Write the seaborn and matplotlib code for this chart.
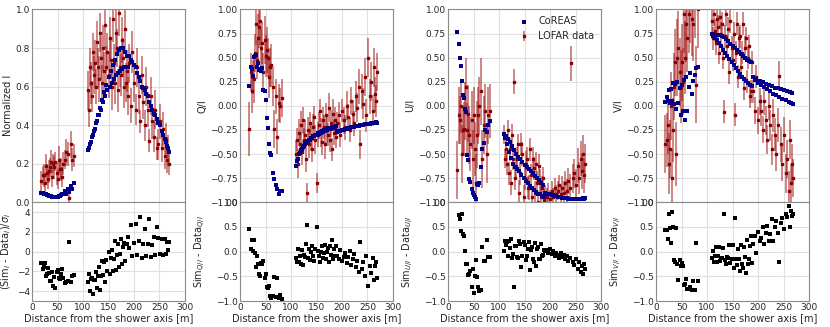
import pandas as pd
import matplotlib
matplotlib.use('Agg')
from matplotlib import pyplot as plt
import seaborn as sns

# antenna distances [m], inner ring and outer ring
dist_in = [18, 21, 24, 26, 28, 30, 32, 34, 36, 38, 40, 42, 44, 46, 48, 50, 52, 54, 56, 58,
           61, 64, 67, 70, 73, 76, 79, 83]
dist_out = [110, 112, 114, 116, 118, 120, 122, 124, 126, 128, 130, 132, 134, 136, 138, 140, 142, 144, 146, 148,
            150, 152, 154, 156, 158, 160, 162, 164, 166, 168, 170, 172, 174, 176, 178, 180, 182, 184, 186, 188,
            191, 194, 197, 200, 203, 206, 209, 212, 215, 218, 221, 224, 227, 230, 233, 236, 239, 242, 245, 248,
            251, 254, 257, 260, 262, 264, 266, 268]

# normalized intensity
i_sim_in = [.05, .05, .045, .04, .04, .035, .035, .03, .03, .03, .028, .027, .026, .026, .026, .027, .03, .03, .035, .04,
            .04, .06, .045, .07, .055, .085, .07, .10]
i_dat_in = [.11, .14, .14, .10, .19, .15, .12, .16, .18, .21, .13, .20, .18, .21, .15, .12, .22, .17, .17, .13,
            .20, .22, .26, .25, .02, .30, .22, .24]
i_err_in = [.05, .05, .06, .05, .06, .05, .05, .06, .05, .06, .05, .05, .06, .05, .06, .05, .07, .05, .06, .05,
            .06, .05, .07, .06, .035, .07, .06, .06]
i_sim_out = [.27, .28, .30, .31, .34, .35, .37, .38, .41, .42, .45, .45, .49, .48, .53, .52, .57, .55, .61, .58,
             .65, .60, .68, .62, .71, .64, .74, .66, .77, .67, .79, .68, .80, .69, .80, .70, .78, .70, .76, .70,
             .76, .74, .73, .71, .70, .67, .65, .63, .60, .59, .58, .56, .55, .52, .50, .48, .46, .45, .43, .41,
             .40, .37, .35, .33, .31, .29, .28, .26]
i_dat_out = [.58, .48, .70, .62, .55, .78, .66, .72, .60, .83, .70, .64, .88, .75, .62, .80, .68, .92, .70, .78,
             .66, .85, .74, .60, .95, .72, .62, .88, .80, .58, .98, .70, .66, .84, .75, .60, .90, .62, .68, .55,
             .72, .50, .78, .62, .48, .70, .55, .42, .66, .52, .40, .60, .48, .32, .55, .42, .34, .48, .28, .30,
             .42, .28, .38, .24, .33, .22, .27, .20]
i_err_out = [.10, .09, .10, .11, .08, .10, .10, .12, .09, .11, .10, .12, .10, .11, .09, .12, .10, .12, .11, .10,
             .12, .11, .10, .12, .12, .10, .11, .12, .10, .11, .12, .10, .11, .12, .10, .11, .12, .10, .11, .10,
             .10, .09, .11, .10, .08, .10, .09, .06, .10, .09, .08, .10, .09, .06, .10, .09, .08, .10, .06, .08,
             .09, .07, .09, .07, .08, .07, .08, .06]

# Q/I
q_sim_in = [.21, .40, .38, .31, .51, .52, .53, .40, .44, .37, .38, .36, .39, .16, .15, .06, -.13, -.23, -.40, -.49,
            -.51, -.70, -.76, -.82, -.86, -.91, -.88, -.88]
q_dat_in = [-.24, .35, .15, .30, .28, .55, .85, .48, .70, .82, .88, .60, .65, .35, .68, .52, .58, .50, .30, .40,
            .42, .20, -.24, .10, -.32, .03, .00, .08]
q_err_in = [.28, .20, .22, .18, .25, .20, .22, .20, .25, .22, .25, .20, .22, .20, .25, .22, .24, .20, .22, .20,
            .22, .20, .20, .18, .18, .20, .18, .20]
q_sim_out = [-.62, -.57, -.55, -.50, -.49, -.46, -.45, -.43, -.42, -.40, -.39, -.37, -.37, -.35, -.35, -.33, -.33, -.31, -.31, -.30,
             -.30, -.28, -.29, -.27, -.28, -.26, -.27, -.25, -.26, -.24, -.25, -.23, -.24, -.23, -.24, -.22, -.23, -.22, -.23, -.21,
             -.27, -.26, -.26, -.25, -.25, -.24, -.24, -.23, -.23, -.22, -.22, -.22, -.21, -.21, -.21, -.20, -.20, -.20, -.19, -.19,
             -.19, -.19, -.18, -.18, -.18, -.18, -.17, -.18]
q_dat_out = [-.50, -.35, -.60, -.28, -.40, -.20, -.48, -.15, -.35, -.30, -.55, -.90, -.25, -.40, -.18, -.32, -.45, -.22, -.12, -.35,
             -.80, -.30, -.20, -.05, -.28, -.38, -.15, -.22, -.40, -.10, -.25, -.30, -.02, -.35, -.18, -.45, -.08, -.28, -.15, -.32,
             -.18, -.10, -.30, -.05, -.15, -.22, .00, -.12, -.25, .05, -.08, -.18, .10, -.02, .20, -.40, .15, .02, .30, -.10,
             .50, .10, .25, -.05, .40, .12, .05, .35]
q_err_out = [.15, .12, .15, .14, .12, .15, .13, .14, .12, .15, .14, .10, .13, .14, .12, .15, .13, .14, .12, .15,
             .10, .13, .14, .12, .15, .13, .14, .12, .15, .13, .14, .12, .15, .13, .14, .12, .15, .13, .14, .12,
             .12, .14, .13, .12, .14, .13, .15, .14, .13, .15, .14, .13, .16, .15, .18, .15, .18, .16, .20, .17,
             .20, .18, .20, .16, .20, .18, .17, .20]

# U/I
u_sim_in = [.77, .64, .50, .41, .26, .11, .08, -.03, -.06, -.51, -.56, -.76, -.79, -.86, -.90, -.93, -.95, -.97, -.81, -.82,
            -.80, -.63, -.45, -.39, -.25, -.27, -.20, -.16]
u_dat_in = [-.67, -.10, -.15, .00, -.50, -.25, -.24, -.05, .20, -.25, -.08, -.30, -.40, -.15, -.55, -.10, -.45, -.80, -.30, -.10,
            .00, .15, -.55, -.20, -.05, -.50, -.10, -.05]
u_err_in = [.30, .30, .25, .28, .30, .25, .28, .30, .30, .28, .30, .30, .28, .30, .30, .30, .28, .30, .35, .30,
            .30, .35, .30, .30, .28, .30, .30, .28]
u_sim_out = [-.29, -.33, -.31, -.40, -.34, -.48, -.38, -.54, -.42, -.60, -.46, -.64, -.50, -.66, -.53, -.68, -.55, -.72, -.58, -.75,
             -.61, -.78, -.63, -.80, -.66, -.83, -.68, -.85, -.70, -.87, -.73, -.89, -.75, -.91, -.77, -.92, -.80, -.94, -.82, -.95,
             -.90, -.91, -.92, -.92, -.93, -.93, -.94, -.94, -.95, -.95, -.95, -.96, -.96, -.96, -.96, -.97, -.97, -.97, -.97, -.97,
             -.97, -.97, -.97, -.97, -.97, -.96, -.97, -.96]
u_dat_out = [-.30, -.55, -.45, -.60, -.25, -.70, -.45, -.80, -.30, -.55, .25, -.75, -.62, -.55, -.40, -.90, -.70, -.40, -.50, -.95,
             -.75, -.60, -.55, -.85, -.85, -.45, -.72, -.95, -.55, -.65, -.90, -.60, -.80, -1.00, -.62, -.78, -.95, -.85, -.75, -.98,
             -.92, -.95, -.90, -.97, -.88, -.95, -.85, -.92, -.88, -.82, -.92, -.85, -.90, -.80, -.88, -.78, -.85, .44, -.75, -.70,
             -.82, -.62, -.75, -.55, -.68, -.50, -.72, -.60]
u_err_out = [.10, .10, .12, .12, .10, .12, .12, .13, .11, .12, .13, .12, .12, .12, .11, .13, .12, .12, .12, .13,
             .12, .13, .12, .12, .13, .12, .12, .12, .12, .12, .12, .12, .12, .12, .12, .12, .12, .12, .12, .12,
             .10, .10, .10, .10, .10, .10, .10, .10, .10, .10, .10, .12, .12, .12, .12, .13, .14, .18, .15, .15,
             .16, .18, .17, .18, .18, .20, .18, .20]

# V/I
v_sim_in = [.04, .09, .05, .16, .03, .17, .05, .24, .02, .23, -.03, .25, .03, .18, -.10, .22, -.05, .27, -.15, .30,
            -.05, .20, .34, .12, .26, .32, .39, .40]
v_dat_in = [-.40, -.35, -.20, -.60, -.45, .00, -.75, -.25, .20, .45, -.50, .50, .60, .35, .20, .45, .25, .95, .50, .85,
            .70, .95, 1.05, .90, .85, 1.10, .22, 1.00]
v_err_in = [.30, .28, .30, .32, .30, .35, .30, .33, .35, .35, .33, .40, .38, .35, .38, .40, .35, .40, .38, .40,
            .35, .40, .40, .38, .38, .40, .40, .40]
v_sim_out = [.75, .72, .74, .70, .74, .68, .73, .65, .73, .62, .72, .58, .71, .55, .69, .52, .67, .49, .64, .45,
             .62, .42, .60, .39, .58, .36, .56, .33, .54, .30, .52, .28, .50, .26, .48, .24, .47, .22, .46, .21,
             .30, .27, .28, .24, .26, .22, .25, .20, .23, .17, .22, .15, .21, .12, .19, .11, .18, .09, .17, .07,
             .16, .06, .15, .04, .14, .03, .13, .02]
v_dat_out = [.88, .70, .95, .78, .65, .90, .82, .55, .92, .75, .85, .50, -.06, .72, .95, .62, .80, .35, .88, .60,
             .48, .75, -.09, .55, .85, .30, .70, .72, .40, .55, .85, .18, .60, .70, .25, .50, .62, .10, .15, .45,
             .15, -.05, .30, -.15, .05, -.05, -.25, .05, -.15, -.35, .00, -.20, -.45, -.10, -.30, -.50, -.20, .31, -.40, -.60,
             -.30, -.70, -.55, -.88, -.35, -.80, -.60, -.75]
v_err_out = [.12, .12, .12, .12, .12, .12, .12, .12, .12, .12, .12, .12, .12, .12, .12, .12, .12, .12, .12, .12,
             .12, .12, .12, .12, .12, .12, .12, .12, .12, .12, .12, .12, .12, .12, .12, .12, .12, .12, .12, .12,
             .12, .14, .12, .14, .14, .16, .14, .14, .15, .15, .15, .16, .16, .17, .17, .18, .18, .16, .18, .18,
             .18, .20, .20, .20, .20, .20, .20, .20]

df = pd.DataFrame({
    'dist': dist_in + dist_out,
    'I_sim': i_sim_in + i_sim_out, 'I_dat': i_dat_in + i_dat_out, 'I_err': i_err_in + i_err_out,
    'Q_sim': q_sim_in + q_sim_out, 'Q_dat': q_dat_in + q_dat_out, 'Q_err': q_err_in + q_err_out,
    'U_sim': u_sim_in + u_sim_out, 'U_dat': u_dat_in + u_dat_out, 'U_err': u_err_in + u_err_out,
    'V_sim': v_sim_in + v_sim_out, 'V_dat': v_dat_in + v_dat_out, 'V_err': v_err_in + v_err_out,
})
df['I_res'] = (df['I_sim'] - df['I_dat']) / df['I_err']
for p in ['Q', 'U', 'V']:
    df[p + '_res'] = df[p + '_sim'] - df[p + '_dat']

sns.set_style('whitegrid', {'axes.edgecolor': '0.55', 'grid.color': '0.88'})
plt.rcParams['font.family'] = ['DejaVu Sans']

fig, axes = plt.subplots(2, 4, figsize=(8.3, 3.27), dpi=100, sharex=True,
                         gridspec_kw={'height_ratios': [1.95, 1], 'hspace': 0, 'wspace': 0.36})
fig.subplots_adjust(left=0.0386, right=0.9747, top=0.971, bottom=0.0795)

panels = [
    ('I', 'Normalized I', r'(Sim$_I$ - Data$_I$)/$\sigma_I$', (0, 1), [0, .2, .4, .6, .8, 1.0], (-5, 5), [-4, -2, 0, 2, 4]),
    ('Q', 'Q/I', r'Sim$_{Q/I}$ - Data$_{Q/I}$', (-1, 1), None, (-1, 1), [-1, -.5, 0, .5, 1]),
    ('U', 'U/I', r'Sim$_{U/I}$ - Data$_{U/I}$', (-1, 1), None, (-1, 1), [-1, -.5, 0, .5, 1]),
    ('V', 'V/I', r'Sim$_{V/I}$ - Data$_{V/I}$', (-1, 1), None, (-1, 1), [-1, -.5, 0, .5, 1]),
]
quarter = [-1, -.75, -.5, -.25, 0, .25, .5, .75, 1]

for k, (p, ylab, rlab, ylim, yticks, rlim, rticks) in enumerate(panels):
    ax = axes[0, k]
    rax = axes[1, k]
    ax.errorbar(df['dist'], df[p + '_dat'], yerr=df[p + '_err'], fmt='s', ms=1.8, color='darkred',
                ecolor=(0.6, 0.0, 0.0, 0.6), elinewidth=1.1, capsize=0, label='LOFAR data', zorder=2)
    sns.scatterplot(x=df['dist'], y=df[p + '_sim'], ax=ax, marker='s', s=11, color='darkblue',
                    linewidth=0, label='CoREAS', zorder=3)
    ax.set_ylim(*ylim)
    ax.set_yticks(yticks if yticks is not None else quarter)
    ax.set_ylabel(ylab, fontsize=7, labelpad=2)
    ax.set_xlabel('')
    if k == 2:
        h, l = ax.get_legend_handles_labels()
        ax.legend([h[l.index('CoREAS')], h[l.index('LOFAR data')]], ['CoREAS', 'LOFAR data'],
                  frameon=False, fontsize=7, loc='upper right', handletextpad=0.4,
                  borderaxespad=0.3, markerscale=1.0)
    else:
        ax.get_legend().remove()

    sns.scatterplot(x=df['dist'], y=df[p + '_res'], ax=rax, marker='s', s=6, color='black', linewidth=0)
    rax.set_ylim(*rlim)
    rax.set_yticks(rticks)
    rax.set_xlim(0, 300)
    rax.set_xticks([0, 50, 100, 150, 200, 250, 300])
    rax.set_ylabel(rlab, fontsize=7, labelpad=2)
    rax.set_xlabel('Distance from the shower axis [m]', fontsize=7, labelpad=1)

for ax in axes.flat:
    ax.tick_params(labelsize=6.5, pad=1.5, length=0)
    for s in ax.spines.values():
        s.set_linewidth(0.8)

fig.align_ylabels(axes[:, 0])
fig.align_ylabels(axes[:, 1])
fig.align_ylabels(axes[:, 2])
fig.align_ylabels(axes[:, 3])

plt.savefig('out.png', dpi=100)
